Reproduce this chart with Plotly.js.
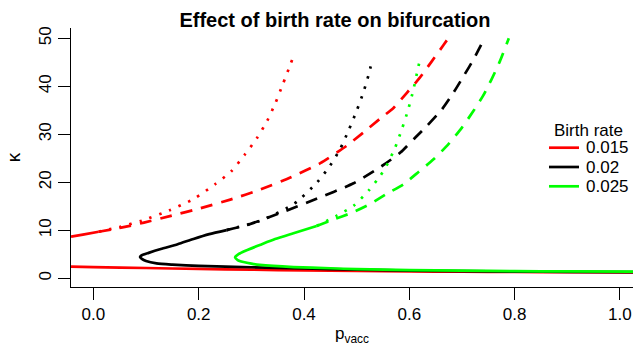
<!DOCTYPE html>
<html>
<head>
<meta charset="utf-8">
<script src="https://cdn.plot.ly/plotly-3.0.1.min.js"></script>
<style>html,body{margin:0;padding:0;background:#fff;}#chart{width:633px;height:346px;}</style>
</head>
<body>
<div id="chart"></div>
<script>
// ---- data ----
const birthRates = ['0.015', '0.02', '0.025'];

// birth rate 0.015
const redLowX = [-0.0425, 0.0, 0.1, 0.2, 0.3, 0.4, 0.5, 0.6, 0.7, 0.8, 0.9, 1.025];
const redLowY = [2.45, 2.35, 2.15, 1.95, 1.8, 1.65, 1.55, 1.45, 1.38, 1.32, 1.27, 1.22];
const redUpX = [-0.0425, -0.02, 0.01];
const redUpY = [8.67, 9.1, 9.7];
const redDashX = [0.01, 0.055, 0.096, 0.147, 0.203, 0.26, 0.317, 0.374, 0.431, 0.481, 0.513, 0.545, 0.57, 0.595, 0.62, 0.642, 0.665, 0.674];
const redDashY = [9.7, 10.6, 11.6, 13.0, 14.6, 16.4, 18.5, 21.0, 24.0, 27.6, 30.4, 33.3, 35.5, 38.6, 41.8, 45.1, 48.6, 50.0];
const redDotX = [0.01, 0.05, 0.092, 0.145, 0.19, 0.231, 0.262, 0.287, 0.31, 0.33, 0.346, 0.36, 0.374, 0.382];
const redDotY = [9.7, 10.7, 12.0, 14.2, 16.5, 19.6, 22.3, 25.7, 29.1, 32.8, 36.6, 40.5, 44.5, 46.8];

// birth rate 0.02
const blackSolidX = [0.253, 0.22, 0.19, 0.16, 0.128, 0.105, 0.092, 0.0885, 0.092, 0.1, 0.12, 0.15, 0.2, 0.3, 0.4, 0.5, 0.6, 0.7, 0.8, 0.9, 1.025];
const blackSolidY = [10.05, 9.2, 8.2, 7.1, 6.1, 5.3, 4.8, 4.45, 4.05, 3.6, 3.1, 2.85, 2.6, 2.3, 2.05, 1.8, 1.62, 1.5, 1.4, 1.33, 1.27];
const blackDashX = [0.253, 0.292, 0.355, 0.418, 0.494, 0.548, 0.583, 0.611, 0.633, 0.662, 0.684, 0.703, 0.722, 0.74, 0.743];
const blackDashY = [10.05, 11.1, 13.6, 16.3, 19.8, 23.4, 26.2, 29.3, 31.7, 35.2, 38.7, 42.1, 45.6, 49.4, 50.0];
const blackDotX = [0.253, 0.317, 0.381, 0.425, 0.449, 0.469, 0.485, 0.5, 0.513, 0.524, 0.529];
const blackDotY = [10.05, 12.0, 15.5, 20.0, 23.4, 27.0, 30.9, 34.9, 38.8, 42.9, 45.3];

// birth rate 0.025
const greenSolidX = [0.424, 0.38, 0.345, 0.316, 0.29, 0.275, 0.269, 0.274, 0.285, 0.3, 0.316, 0.38, 0.45, 0.5, 0.6, 0.7, 0.8, 0.9, 1.025];
const greenSolidY = [10.9, 9.4, 8.2, 6.95, 5.8, 5.0, 4.37, 3.8, 3.4, 3.05, 2.8, 2.35, 2.1, 1.9, 1.72, 1.6, 1.5, 1.43, 1.38];
const greenDashX = [0.424, 0.45, 0.494, 0.526, 0.557, 0.589, 0.617, 0.646, 0.674, 0.7, 0.722, 0.74, 0.756, 0.772, 0.788, 0.789];
const greenDashY = [10.9, 12.0, 13.8, 15.5, 17.6, 19.6, 22.1, 24.8, 27.9, 31.4, 34.9, 38.0, 41.4, 45.2, 49.7, 50.0];
const greenDotX = [0.424, 0.463, 0.494, 0.523, 0.545, 0.556, 0.573, 0.586, 0.598, 0.608, 0.616, 0.621];
const greenDotY = [10.9, 13.1, 15.1, 18.3, 21.4, 23.3, 27.2, 31.1, 35.2, 39.4, 43.5, 45.9];

const xTickVals = [0, 0.2, 0.4, 0.6, 0.8, 1.0];
const xTickText = ['0.0', '0.2', '0.4', '0.6', '0.8', '1.0'];
const yTickVals = [0, 10, 20, 30, 40, 50];
const yTickText = ['0', '10', '20', '30', '40', '50'];

// ---- styles ----
const colors = ['#FF0000', '#000000', '#00FF00'];
const LW = 2.7;
const DASH = '12px,9px';
const DOT = '2.5px,8px';
const FONT = 'Liberation Sans, Arial, Helvetica, sans-serif';

function tr(x, y, color, dash) {
  return {x: x, y: y, type: 'scatter', mode: 'lines', showlegend: false, hoverinfo: 'skip',
    line: {color: color, width: LW, dash: dash, shape: 'spline', smoothing: 0.6}};
}

const traces = [
  tr(redLowX, redLowY, colors[0], 'solid'),
  tr(redUpX, redUpY, colors[0], 'solid'),
  tr(redDashX, redDashY, colors[0], DASH),
  tr(redDotX, redDotY, colors[0], DOT),
  tr(blackSolidX, blackSolidY, colors[1], 'solid'),
  tr(blackDashX, blackDashY, colors[1], DASH),
  tr(blackDotX, blackDotY, colors[1], DOT),
  tr(greenSolidX, greenSolidY, colors[2], 'solid'),
  tr(greenDashX, greenDashY, colors[2], DASH),
  tr(greenDotX, greenDotY, colors[2], DOT)
];

// manual legend (R-style)
const L = 71, T = 28, W = 562, H = 259;
const px2x = p => (p - L) / W;
const px2y = p => (T + H - p) / H;
const legendRowsPx = [147.7, 167, 186.3];
const shapes = [];
const annotations = [{
  text: 'Birth rate', xref: 'paper', yref: 'paper', x: px2x(588), y: px2y(130),
  xanchor: 'center', yanchor: 'middle', showarrow: false, font: {family: FONT, size: 17, color: '#000'}
}];
birthRates.forEach((b, i) => {
  shapes.push({type: 'line', xref: 'paper', yref: 'paper', x0: px2x(549), x1: px2x(579),
    y0: px2y(legendRowsPx[i]), y1: px2y(legendRowsPx[i]), line: {color: colors[i], width: LW}});
  annotations.push({text: b, xref: 'paper', yref: 'paper', x: px2x(584), y: px2y(legendRowsPx[i]),
    xanchor: 'left', yanchor: 'middle', showarrow: false, font: {family: FONT, size: 17, color: '#000'}});
});

const layout = {
  width: 633, height: 346,
  margin: {l: L, r: 0, t: T, b: 346 - T - H, pad: 0},
  paper_bgcolor: '#fff', plot_bgcolor: '#fff',
  font: {family: FONT, size: 17, color: '#000'},
  title: {text: '<b>Effect of birth rate on bifurcation</b>', xref: 'container', yref: 'container',
    x: 335 / 633, y: 1 - 20 / 346, xanchor: 'center', yanchor: 'middle', font: {family: FONT, size: 20, color: '#000'}},
  xaxis: {range: [-0.04255, 1.0249], tickvals: xTickVals, ticktext: xTickText, ticks: 'outside', ticklen: 12,
    tickwidth: 1, tickcolor: '#000', showline: true, linecolor: '#000', linewidth: 1, showgrid: false, zeroline: false,
    tickfont: {family: FONT, size: 17}, title: {text: 'p<sub>vacc</sub>', font: {family: FONT, size: 17}, standoff: 6}},
  yaxis: {range: [-1.81, 52.15], tickvals: yTickVals, ticktext: yTickText, ticks: 'outside', ticklen: 12,
    tickwidth: 1, tickcolor: '#000', showline: true, linecolor: '#000', linewidth: 1, showgrid: false, zeroline: false,
    tickangle: -90, tickfont: {family: FONT, size: 17}, title: {text: 'κ', font: {family: FONT, size: 19}, standoff: 10}},
  shapes: shapes,
  annotations: annotations
};

Plotly.newPlot('chart', traces, layout, {staticPlot: true, displayModeBar: false});
</script>
</body>
</html>
